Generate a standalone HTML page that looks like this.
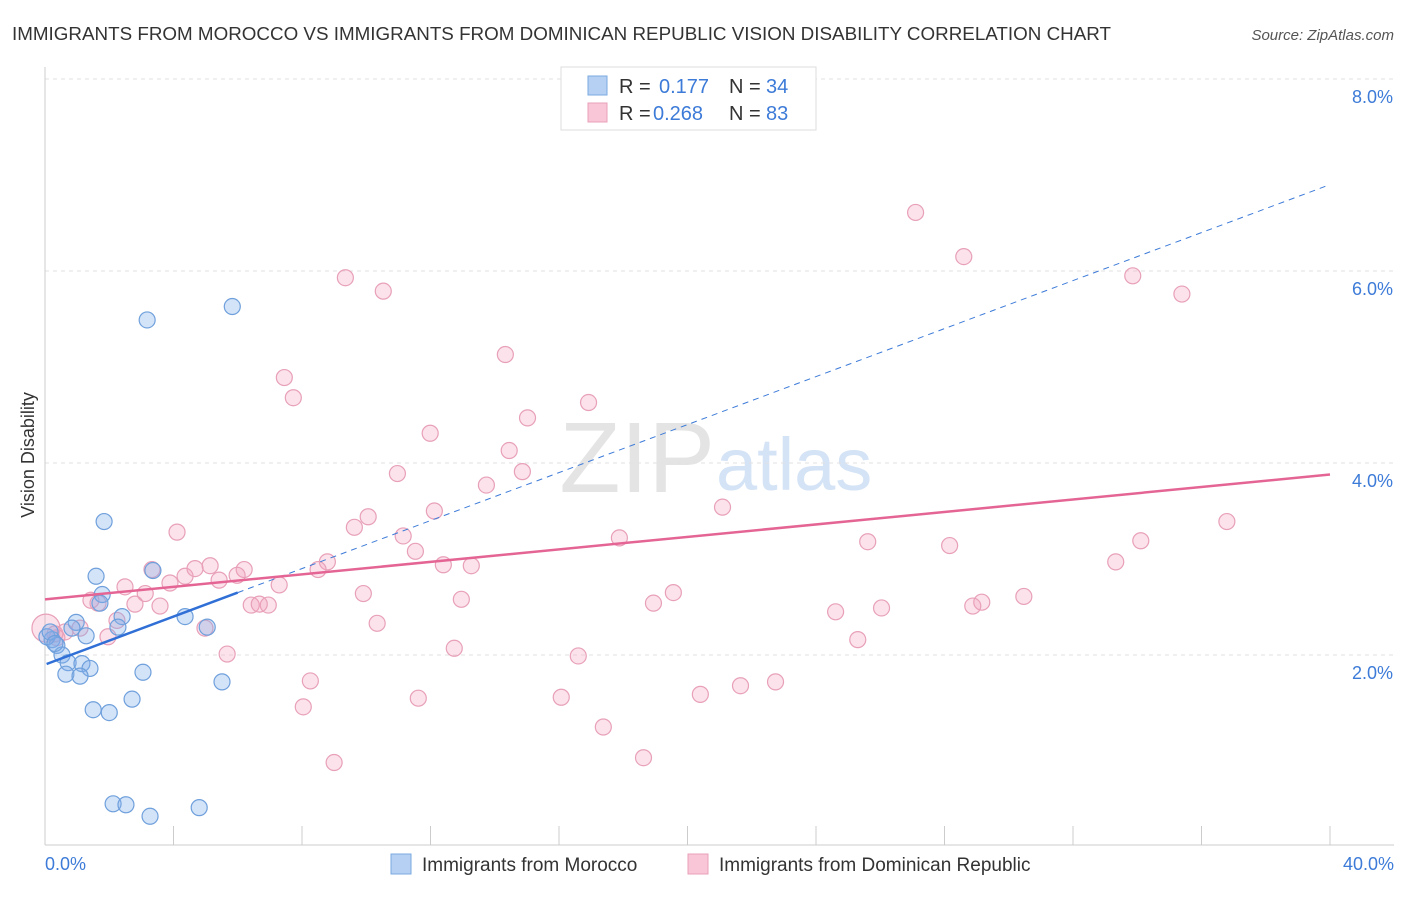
<!DOCTYPE html>
<html><head><meta charset="utf-8"><style>
body{margin:0;background:#fff;font-family:"Liberation Sans",sans-serif;}
svg text{font-family:"Liberation Sans",sans-serif;}
</style></head><body>
<svg id="chart" width="1406" height="892" xmlns="http://www.w3.org/2000/svg">
<text x="12" y="40" font-size="18" fill="#333" textLength="1099" lengthAdjust="spacingAndGlyphs">IMMIGRANTS FROM MOROCCO VS IMMIGRANTS FROM DOMINICAN REPUBLIC VISION DISABILITY CORRELATION CHART</text>
<text x="1394" y="40" font-size="15" fill="#555" font-style="italic" text-anchor="end">Source: ZipAtlas.com</text>
<text x="715" y="492" font-size="100" fill="#e4e4e4" text-anchor="end" font-family="Liberation Serif">ZIP</text>
<text x="716" y="490" font-size="74" fill="#d4e3f5">atlas</text>
<g id="grid"></g><g id="axes"></g><g id="marks"></g>
<text x="34" y="455" font-size="18" fill="#333" text-anchor="middle" transform="rotate(-90 34 455)">Vision Disability</text>
<text x="45" y="870" font-size="18" fill="#3d7bd8">0.0%</text>
<text x="1394" y="870" font-size="18" fill="#3d7bd8" text-anchor="end">40.0%</text>
<g>
<rect x="561" y="67" width="255" height="63" fill="#fff" stroke="#ddd"/>
<rect x="588" y="76" width="19" height="19" fill="#b5d0f2" stroke="#7aaae0"/>
<rect x="588" y="103" width="19" height="19" fill="#f8c6d6" stroke="#e8a0b8"/>
<text x="619" y="93" font-size="20" fill="#333">R = <tspan x="659" fill="#3d7bd8">0.177</tspan><tspan x="729">N = </tspan><tspan x="766" fill="#3d7bd8">34</tspan></text>
<text x="619" y="120" font-size="20" fill="#333">R = <tspan x="653" fill="#3d7bd8">0.268</tspan><tspan x="729">N = </tspan><tspan x="766" fill="#3d7bd8">83</tspan></text>
</g>
<g><rect x="391" y="854" width="20" height="20" fill="#b5d0f2" stroke="#7aaae0"/><text x="422" y="871" font-size="19" fill="#333">Immigrants from Morocco</text></g>
<g><rect x="688" y="854" width="20" height="20" fill="#f8c6d6" stroke="#e8a0b8"/><text x="719" y="871" font-size="19" fill="#333">Immigrants from Dominican Republic</text></g>
</svg>
<script>
const yTicks=[2,4,6,8];
const xTicks=[0,4,8,12,16,20,24,28,32,36,40];
const moroccoX=[3.18,5.83,1.84,1.59,3.36,1.78,1.71,2.40,2.27,0.97,0.84,1.28,0.22,0.37,0.06,0.53,0.72,1.15,1.40,0.65,1.09,3.05,4.36,5.05,5.51,2.71,1.50,2.00,2.12,2.52,3.27,4.80,0.16,0.31];
const moroccoY=[5.49,5.63,3.39,2.82,2.88,2.63,2.54,2.40,2.29,2.34,2.28,2.20,2.16,2.10,2.19,2.00,1.92,1.91,1.86,1.80,1.78,1.82,2.40,2.29,1.72,1.54,1.43,1.40,0.45,0.44,0.32,0.41,2.24,2.12];
const domX=[27.10,28.60,33.86,35.39,9.35,10.53,14.33,7.45,7.73,16.92,15.02,11.99,14.45,10.97,14.86,13.74,21.09,36.79,10.06,9.63,12.12,4.11,11.15,17.88,25.61,28.16,34.11,11.53,33.33,8.79,12.40,13.27,5.14,3.33,6.20,4.36,5.98,4.67,8.50,3.89,5.42,7.29,2.49,3.12,9.91,12.96,19.56,30.47,29.16,28.88,18.94,26.04,24.61,1.43,1.65,2.80,3.58,6.42,6.95,6.67,2.24,10.34,4.98,1.09,0.62,0.37,1.96,25.30,5.67,12.74,16.60,8.26,21.65,22.74,20.40,11.62,16.07,8.04,17.38,18.63,9.00,0.03,0.31];
const domY=[6.61,6.15,5.95,5.76,5.93,5.79,5.13,4.89,4.68,4.63,4.47,4.31,4.13,3.89,3.91,3.77,3.54,3.39,3.44,3.33,3.50,3.28,3.24,3.22,3.18,3.14,3.19,3.08,2.97,2.97,2.94,2.93,2.93,2.89,2.89,2.82,2.83,2.90,2.89,2.75,2.78,2.73,2.71,2.64,2.64,2.58,2.65,2.61,2.55,2.51,2.54,2.49,2.45,2.57,2.54,2.53,2.51,2.52,2.52,2.53,2.36,2.33,2.28,2.28,2.24,2.18,2.19,2.16,2.01,2.07,1.99,1.73,1.68,1.72,1.59,1.55,1.56,1.46,1.25,0.93,0.88,2.28,2.22];
const moroccoTrend=[1.90,6.90];
const domTrend=[2.58,3.88];
const NS="http://www.w3.org/2000/svg";
const sx=v=>45+v*32.125, sy=v=>847-v*96;
function mk(tag,attrs,parent){const e=document.createElementNS(NS,tag);for(const k in attrs)e.setAttribute(k,attrs[k]);document.getElementById(parent).appendChild(e);return e;}
yTicks.forEach(t=>{
 const l=mk('line',{x1:45,x2:1394,y1:sy(t),y2:sy(t),stroke:'#e2e2e2','stroke-dasharray':'4,4'},'grid');
 
 
 const tx=mk('text',{x:1393,y:sy(t)+24,'font-size':18,fill:'#3d7bd8','text-anchor':'end'},'grid');
 tx.textContent=t.toFixed(1)+'%';
 
 
});
const ax=mk('line',{x1:45,x2:45,y1:67,y2:845,stroke:'#ccc'},'axes');


const bx=mk('line',{x1:45,x2:1394,y1:845,y2:845,stroke:'#ccc'},'axes');


xTicks.forEach(t=>{
 const l=mk('line',{x1:sx(t),x2:sx(t),y1:826,y2:845,stroke:'#ccc'},'axes');
 
 
});
domX.forEach((x,i)=>{
 const c=mk('circle',{cx:sx(x),cy:sy(domY[i]),r:i==81?14:8,fill:'rgba(242,160,190,0.3)',stroke:'#e8a0b8','stroke-width':1.2},'marks');
 
 
});
moroccoX.forEach((x,i)=>{
 const c=mk('circle',{cx:sx(x),cy:sy(moroccoY[i]),r:8,fill:'rgba(130,175,235,0.35)',stroke:'#6fa0dc','stroke-width':1.2},'marks');
 
 
});
const ty=(tr,x)=>tr[0]+(tr[1]-tr[0])*x/40;
const d1=mk('line',{x1:sx(6),y1:sy(ty(moroccoTrend,6)),x2:sx(40),y2:sy(ty(moroccoTrend,40)),stroke:'#3d7bd8','stroke-width':1,'stroke-dasharray':'6,5'},'marks');


const d2=mk('line',{x1:sx(0.05),y1:sy(ty(moroccoTrend,0.05)),x2:sx(6),y2:sy(ty(moroccoTrend,6)),stroke:'#2f6fd6','stroke-width':2.5},'marks');


const d3=mk('line',{x1:sx(0),y1:sy(ty(domTrend,0)),x2:sx(40),y2:sy(ty(domTrend,40)),stroke:'#e46594','stroke-width':2.5},'marks');


</script>
</body></html>
